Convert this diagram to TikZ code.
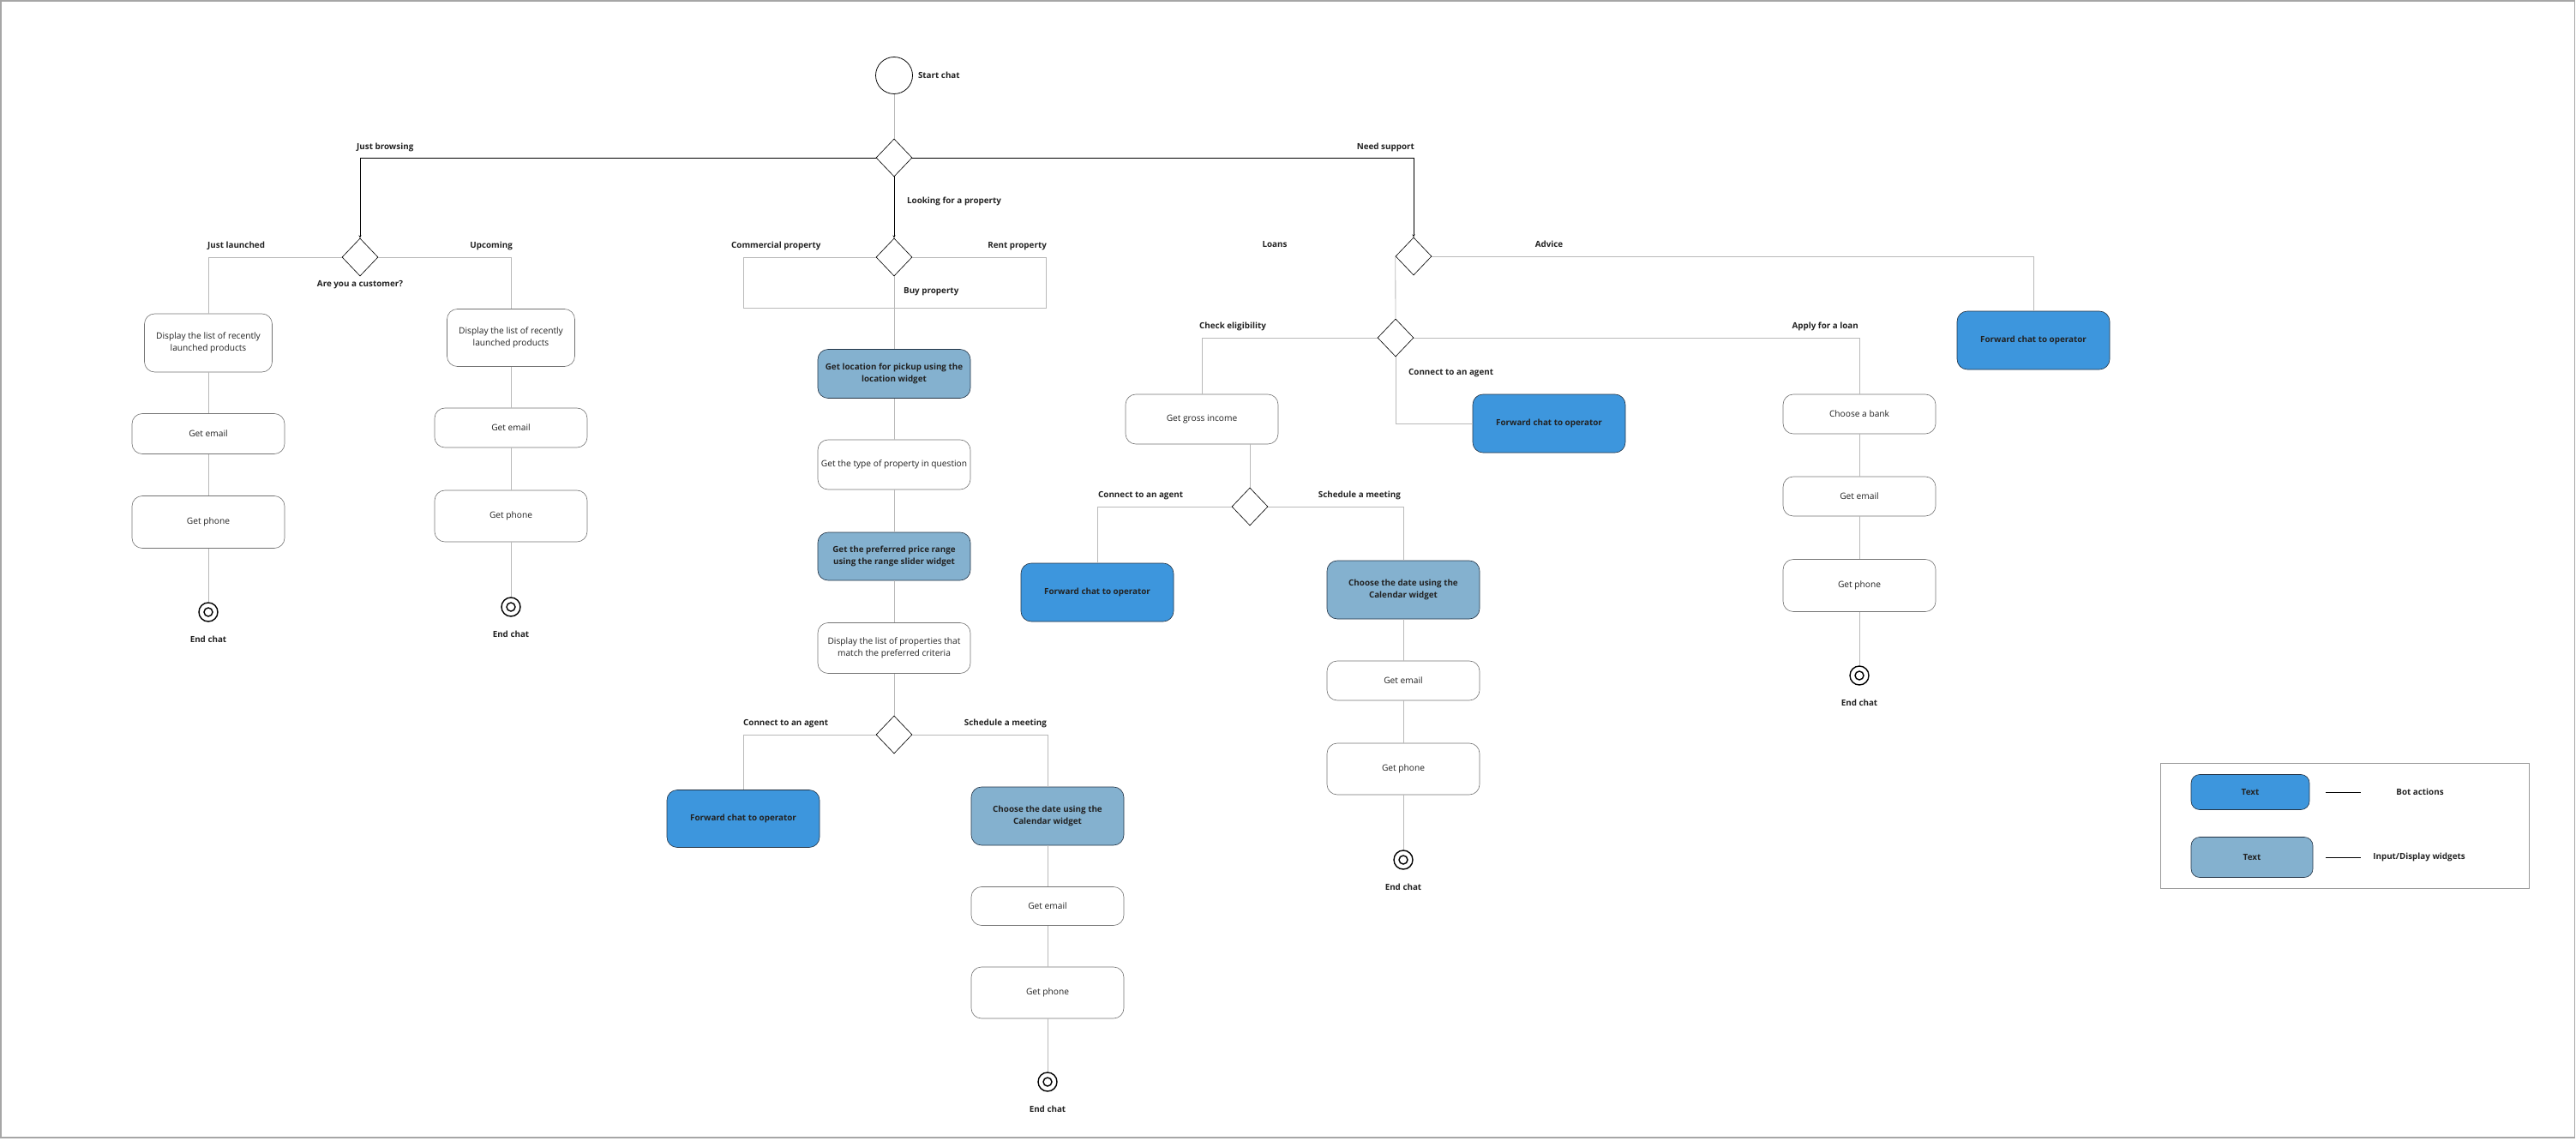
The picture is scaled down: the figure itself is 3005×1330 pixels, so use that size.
\documentclass[tikz,border=0pt]{standalone}
\usepackage{fontspec}
\setmainfont{Open Sans}
\usetikzlibrary{shapes.geometric,positioning}
\definecolor{botblue}{RGB}{61,150,221}
\definecolor{widgblue}{RGB}{132,177,207}
\definecolor{edgegray}{RGB}{185,185,185}
\definecolor{boxgray}{RGB}{115,115,115}
\definecolor{boxdark}{RGB}{35,52,70}
\definecolor{inkdark}{RGB}{34,34,34}
\newdimen\px \px=0.05cm
\begin{document}
\begin{tikzpicture}[>=stealth, x=0.05cm, y=-0.05cm,
    every node/.style={text=inkdark, font=\fontsize{14.5}{19.5}\selectfont},
    lbl/.style={inner sep=0pt, font=\fontsize{14}{19.5}\selectfont\bfseries},
    usrbox/.style={draw=boxgray, line width=0.9pt, rounded corners=0.6cm, fill=white, align=center, inner sep=2pt, minimum width=178\px},
    botbox/.style={usrbox, draw=boxdark, fill=botblue, font=\fontsize{14}{19.5}\selectfont\bfseries},
    widbox/.style={botbox, fill=widgblue},
    choice/.style={diamond, draw=black, line width=0.9pt, fill=white, minimum width=42\px, minimum height=44\px, inner sep=0pt},
    startst/.style={circle, draw=black, line width=1.1pt, minimum size=43\px, inner sep=0pt},
    endst/.style={circle, draw=black, line width=2pt, minimum size=22\px, inner sep=0pt,
        path picture={\draw[line width=2pt] (path picture bounding box.center) circle (5\px);}},
    glink/.style={draw=edgegray, line width=1.2pt},
    blink/.style={draw=black, line width=1.1pt, ->}]

    \useasboundingbox (0,0) rectangle (3005,1330);
    \draw[gray!70, line width=1.5pt] (1,1) rectangle (3003,1327);

    % start and first choice
    \node[startst] (start) at (1043,88) {};
    \node[lbl, right=0.3cm of start] (lstart) {Start chat};
    \node[choice] (d0) at (1043,184) {};
    \node[lbl, anchor=west] (lbrowse) at (416,172) {Just browsing};
    \node[lbl, anchor=east] (lsupport) at (1650,172) {Need support};
    \node[lbl, anchor=west] (lprop) at (1058,235) {Looking for a property};

    % just browsing
    \node[choice] (dcust) at (420,300) {};
    \node[lbl] (lcust) at (420,332) {Are you a customer?};
    \node[lbl, anchor=west] (llaunch) at (242,287) {Just launched};
    \node[lbl, anchor=east] (lupcom) at (598,287) {Upcoming};
    \node[usrbox, minimum width=149\px, minimum height=68\px] (disp1) at (243,400) {Display the list of recently\\launched products};
    \node[usrbox, minimum height=47\px] (mail1) at (243,506) {Get email};
    \node[usrbox, minimum height=61\px] (phone1) at (243,609) {Get phone};
    \node[endst] (end1) at (243,714) {};
    \node[lbl] (lend1) at (243,746) {End chat};
    \node[usrbox, minimum width=149\px, minimum height=67\px] (disp2) at (596,394) {Display the list of recently\\launched products};
    \node[usrbox, minimum height=46\px] (mail2) at (596,499) {Get email};
    \node[usrbox, minimum height=60\px] (phone2) at (596,602) {Get phone};
    \node[endst] (end2) at (596,708) {};
    \node[lbl] (lend2) at (596,740) {End chat};

    % looking for a property
    \node[choice] (dprop) at (1043,300) {};
    \node[lbl, anchor=west] (lcomm) at (853,287) {Commercial property};
    \node[lbl, anchor=east] (lrent) at (1221,287) {Rent property};
    \node[lbl, anchor=west] (lbuy) at (1054,340) {Buy property};
    \coordinate (rcl) at (867,359);
    \coordinate (rcr) at (1220,359);
    \node[widbox, minimum height=57\px] (loc) at (1043,436) {Get location for pickup using the\\location widget};
    \node[usrbox, minimum height=58\px] (ptype) at (1043,542) {Get the type of property in question};
    \node[widbox, minimum height=56\px] (price) at (1043,649) {Get the preferred price range\\using the range slider widget};
    \node[usrbox, minimum height=59\px] (plist) at (1043,756) {Display the list of properties that\\match the preferred criteria};
    \node[choice] (dmeet1) at (1043,857) {};
    \node[lbl, anchor=west] (lagent1) at (867,844) {Connect to an agent};
    \node[lbl, anchor=east] (lmeet1) at (1221,844) {Schedule a meeting};
    \node[botbox, minimum height=67\px] (fwd1) at (867,955) {Forward chat to operator};
    \node[widbox, minimum height=68\px] (cal1) at (1222,952) {Choose the date using the\\Calendar widget};
    \node[usrbox, minimum height=45\px] (mail3) at (1222,1057) {Get email};
    \node[usrbox, minimum height=60\px] (phone3) at (1222,1158) {Get phone};
    \node[endst] (end3) at (1222,1262) {};
    \node[lbl] (lend3) at (1222,1294) {End chat};

    % need support
    \node[choice] (dsup) at (1649,299) {};
    \node[lbl] (lloans) at (1487,285) {Loans};
    \node[lbl] (ladvice) at (1807,285) {Advice};
    \node[botbox, minimum height=68\px] (fwd2) at (2372,397) {Forward chat to operator};
    \node[choice] (dloan) at (1628,394) {};
    \node[lbl, anchor=west] (lcheck) at (1399,381) {Check eligibility};
    \node[lbl, anchor=west] (lagent2) at (1643,435) {Connect to an agent};
    \node[lbl, anchor=east] (lapply) at (2168,381) {Apply for a loan};
    \node[usrbox, minimum height=58\px] (gross) at (1402,489) {Get gross income};
    \node[botbox, minimum height=68\px] (fwd3) at (1807,494) {Forward chat to operator};
    \node[usrbox, minimum height=46\px] (bank) at (2169,483) {Choose a bank};
    \node[usrbox, minimum height=46\px] (mail5) at (2169,579) {Get email};
    \node[usrbox, minimum height=61\px] (phone5) at (2169,683) {Get phone};
    \node[endst] (end5) at (2169,788) {};
    \node[lbl] (lend5) at (2169,820) {End chat};
    \node[choice] (dmeet2) at (1458,591) {};
    \node[lbl, anchor=west] (lagent3) at (1281,578) {Connect to an agent};
    \node[lbl, anchor=east] (lmeet2) at (1634,578) {Schedule a meeting};
    \node[botbox, minimum height=68\px] (fwd4) at (1280,691) {Forward chat to operator};
    \node[widbox, minimum height=68\px] (cal2) at (1637,688) {Choose the date using the\\Calendar widget};
    \node[usrbox, minimum height=46\px] (mail4) at (1637,794) {Get email};
    \node[usrbox, minimum height=60\px] (phone4) at (1637,897) {Get phone};
    \node[endst] (end4) at (1637,1003) {};
    \node[lbl] (lend4) at (1637,1035) {End chat};

    % legend
    \draw[gray!80, line width=1.1pt] (2520,890) rectangle (2950,1036);
    \node[botbox, minimum width=138\px, minimum height=41\px, rounded corners=0.5cm] (lgbot) at (2625,924) {Text};
    \node[widbox, minimum width=142\px, minimum height=47\px, rounded corners=0.5cm] (lgwid) at (2627,1000) {Text};
    \coordinate (lga) at (2713,924);
    \coordinate (lgb) at (2754,924);
    \coordinate (lgc) at (2713,1000);
    \coordinate (lgd) at (2754,1000);
    \node[lbl] (lgtbot) at (2823,924) {Bot actions};
    \node[lbl] (lgtwid) at (2822,1000) {Input/Display widgets};
    \draw[black, line width=1pt] (lga) -- (lgb);
    \draw[black, line width=1pt] (lgc) -- (lgd);

    % connectors
    \draw[glink] (start) -- (d0);
    \draw[blink] (d0.west) -| (dcust.north);
    \draw[blink] (d0.east) -| (dsup.north);
    \draw[blink] (d0.south) -- (dprop.north);

    \draw[glink] (dcust.west) -| (disp1.north);
    \draw[glink] (dcust.east) -| (disp2.north);
    \draw[glink] (disp1) -- (mail1) -- (phone1) -- (end1);
    \draw[glink] (disp2) -- (mail2) -- (phone2) -- (end2);

    \draw[glink] (dprop.west) -| (rcl) -- (rcr) |- (dprop.east);
    \draw[glink] (dprop) -- (loc) -- (ptype) -- (price) -- (plist) -- (dmeet1);
    \draw[glink] (dmeet1.west) -| (fwd1.north);
    \draw[glink] (dmeet1.east) -| (cal1.north);
    \draw[glink] (cal1) -- (mail3) -- (phone3) -- (end3);

    \draw[glink] (dsup.east) -| (fwd2.north);
    \draw[glink] (dsup.west) -- (dloan.north);
    \draw[glink] (dloan.west) -| (gross.north);
    \draw[glink] (dloan.south) |- (fwd3.west);
    \draw[glink] (dloan.east) -| (bank.north);
    \draw[glink] (bank) -- (mail5) -- (phone5) -- (end5);
    \draw[glink] (gross.south -| dmeet2.north) -- (dmeet2.north);
    \draw[glink] (dmeet2.west) -| (fwd4.north);
    \draw[glink] (dmeet2.east) -| (cal2.north);
    \draw[glink] (cal2) -- (mail4) -- (phone4) -- (end4);
\end{tikzpicture}
\end{document}
